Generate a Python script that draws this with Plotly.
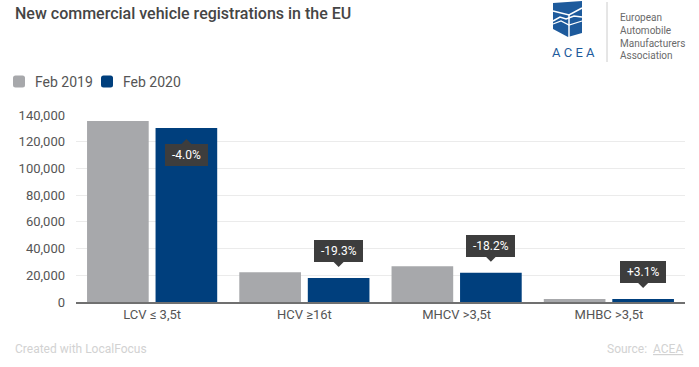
import plotly.graph_objects as go

# ---------------- data ----------------
categories = ["LCV ≤ 3,5t", "HCV ≥16t", "MHCV >3,5t", "MHBC >3,5t"]
series_names = ["Feb 2019", "Feb 2020"]
feb_2019 = [135600, 22300, 26800, 2250]
feb_2020 = [130200, 18000, 21900, 2320]
change_labels = ["-4.0%", "-19.3%", "-18.2%", "+3.1%"]
y_ticks = [0, 20000, 40000, 60000, 80000, 100000, 120000, 140000]

# ---------------- style ----------------
W, H = 699, 367
ML, MR, MT, MB = 76, 14, 115, 65
PW, PH = W - ML - MR, H - MT - MB
FONT = "Roboto, Arial, sans-serif"
GREY = "#a7a8ab"
BLUE = "#003f7d"
BOXC = "#3d3d3d"
LOGO = "#1d5a9c"
BARGAP = 0.10
GROUPGAP = 0.10


def px(x):
    return (x - ML) / PW


def py(y):
    return (H - MB - y) / PH


fig = go.Figure()
fig.add_trace(go.Bar(x=categories, y=feb_2019, name=series_names[0],
                     marker=dict(color=GREY, line=dict(width=0)), showlegend=False,
                     hoverinfo="skip"))
fig.add_trace(go.Bar(x=categories, y=feb_2020, name=series_names[1],
                     marker=dict(color=BLUE, line=dict(width=0)), showlegend=False,
                     hoverinfo="skip"))

annotations = []
shapes = []

# change callouts on the Feb 2020 bars
ymax = y_ticks[-1]
offset = (1 - BARGAP) / 4.0
for i, (v, lab) in enumerate(zip(feb_2020, change_labels)):
    xc = i + offset
    inside = v > ymax / 2
    annotations.append(dict(
        x=xc, y=v, xref="x", yref="y",
        text="\u00a0" + lab + "\u00a0", showarrow=False,
        font=dict(family=FONT, size=12, color="white"),
        bgcolor=BOXC, borderpad=4, borderwidth=0,
        yanchor="top" if inside else "bottom",
        yshift=-16 if inside else 16,
    ))
    if inside:
        path = "M-5,-16 L5,-16 L0,-11 Z"
    else:
        path = "M-5,16 L5,16 L0,11 Z"
    shapes.append(dict(type="path", xref="x", yref="y",
                       xsizemode="pixel", ysizemode="pixel",
                       xanchor=xc, yanchor=v, path=path,
                       fillcolor=BOXC, line=dict(width=0), layer="above"))

# title
annotations.append(dict(x=px(13), y=py(13), xref="paper", yref="paper",
                        xanchor="left", yanchor="middle", showarrow=False,
                        text="New commercial vehicle registrations in the EU",
                        font=dict(family=FONT, size=16, weight=500,
                                  color="#454545")))

# legend (manual)
def rrect(x0, y0, x1, y1, r):
    X0, X1 = px(x0), px(x1)
    Y0, Y1 = py(y0), py(y1)
    rx, ry = r / PW, r / PH
    return (f"M{X0+rx},{Y0} L{X1-rx},{Y0} Q{X1},{Y0} {X1},{Y0-ry} "
            f"L{X1},{Y1+ry} Q{X1},{Y1} {X1-rx},{Y1} L{X0+rx},{Y1} "
            f"Q{X0},{Y1} {X0},{Y1+ry} L{X0},{Y0-ry} Q{X0},{Y0} {X0+rx},{Y0} Z")

leg_items = [(13, GREY, series_names[0]), (101, BLUE, series_names[1])]
for x0, col, name in leg_items:
    shapes.append(dict(type="path", xref="paper", yref="paper",
                       path=rrect(x0, 75.5, x0 + 12, 87.5, 2.5),
                       fillcolor=col, line=dict(width=0)))
    annotations.append(dict(x=px(x0 + 19.5), y=py(81.5), xref="paper", yref="paper",
                            xanchor="left", yanchor="middle", showarrow=False,
                            text=name, font=dict(family=FONT, size=14, color="#555555")))

# footer
annotations.append(dict(x=px(13), y=py(349), xref="paper", yref="paper",
                        xanchor="left", yanchor="middle", showarrow=False,
                        text="Created with LocalFocus",
                        font=dict(family=FONT, size=12, color="#d2d2d2")))
annotations.append(dict(x=px(685), y=py(349), xref="paper", yref="paper",
                        xanchor="right", yanchor="middle", showarrow=False,
                        text="Source:  <u>ACEA</u>",
                        font=dict(family=FONT, size=12, color="#d2d2d2")))

# ACEA logo
def ppath(pts, close=True):
    s = "M" + " L".join(f"{px(x)},{py(y)}" for x, y in pts)
    return s + (" Z" if close else "")

shapes.append(dict(type="path", xref="paper", yref="paper",
                   path=ppath([(553, 3), (582, 1), (582, 33), (568, 37), (553, 29)]),
                   fillcolor=LOGO, line=dict(width=0)))
shapes.append(dict(type="path", xref="paper", yref="paper",
                   path=ppath([(553, 11), (569, 15), (582, 8)], close=False),
                   line=dict(color="white", width=1.5)))
shapes.append(dict(type="path", xref="paper", yref="paper",
                   path=ppath([(569, 15), (569, 37)], close=False),
                   line=dict(color="white", width=1.5)))
shapes.append(dict(type="path", xref="paper", yref="paper",
                   path=ppath([(553, 21), (560, 17), (566, 19), (574, 16), (582, 17)], close=False),
                   line=dict(color="white", width=1.5)))
shapes.append(dict(type="path", xref="paper", yref="paper",
                   path=ppath([(553, 24), (561, 21), (569, 25), (582, 21)], close=False),
                   line=dict(color="white", width=1.2)))
annotations.append(dict(x=px(573), y=py(52), xref="paper", yref="paper",
                        xanchor="center", yanchor="middle", showarrow=False,
                        text="A C E A", font=dict(family=FONT, size=13, color=LOGO)))
shapes.append(dict(type="line", xref="paper", yref="paper",
                   x0=px(607), x1=px(607), y0=py(2), y1=py(62),
                   line=dict(color="#cccccc", width=1)))
for k, t in enumerate(["European", "Automobile", "Manufacturers", "Association"]):
    annotations.append(dict(x=px(618), y=py(18 + k * 12.5), xref="paper", yref="paper",
                            xanchor="left", yanchor="middle", showarrow=False,
                            text=t, font=dict(family=FONT, size=10, color="#6a6a6a")))

fig.update_layout(
    width=W, height=H,
    margin=dict(l=ML, r=MR, t=MT, b=MB, pad=0),
    paper_bgcolor="white", plot_bgcolor="white",
    barmode="group", bargap=BARGAP, bargroupgap=GROUPGAP,
    showlegend=False,
    font=dict(family=FONT, size=13, color="#555555"),
    xaxis=dict(type="category", showgrid=False, showline=True, linecolor="#707070",
               linewidth=1.5, ticks="", tickfont=dict(size=13, color="#555555"),
               fixedrange=True, zeroline=False),
    yaxis=dict(range=[0, ymax], tickvals=y_ticks, tickformat=",d",
               showgrid=True, gridcolor="#ebebeb", gridwidth=1, zeroline=False,
               showline=False, ticks="", ticklabelstandoff=10,
               tickfont=dict(size=13, color="#555555"), fixedrange=True),
    annotations=annotations,
    shapes=shapes,
)

fig.write_html("out.html", config={"displayModeBar": False},
               post_script="document.body.style.margin='0';document.body.style.overflow='hidden';")
